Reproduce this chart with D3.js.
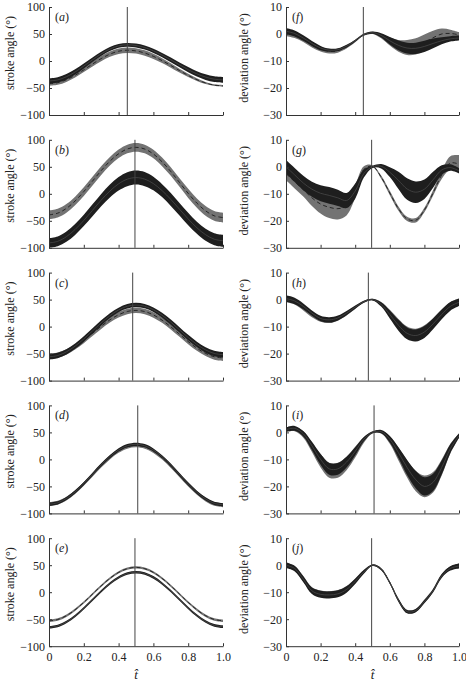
<!DOCTYPE html>
<html><head><meta charset="utf-8">
<script src="https://cdn.jsdelivr.net/npm/d3@7"></script>
<style>body{margin:0;background:#fff}svg{display:block}text{font-family:"Liberation Serif","Times New Roman",serif;fill:#222}</style>
</head><body><svg id="chart" width="466" height="682"></svg>
<script>
// normalised time (t-hat) sample points
const tHat = [0,0.05,0.1,0.15,0.2,0.25,0.3,0.35,0.4,0.45,0.5,0.55,0.6,0.65,0.7,0.75,0.8,0.85,0.9,0.95,1];

// ---- stroke angle (deg): mean and s.d. ----
const aGrayMean  = [-42,-40.1,-34.7,-26.5,-16.4,-5.6,4.5,12.7,18.1,20.0,18.7,14.8,8.6,0.7,-8.3,-17.7,-26.7,-34.6,-40.7,-44.7,-46.0];
const aGraySd    = [4,4,4,4,4.2,4.5,4.8,5,5,5,5,5,4.8,4.5,4,3.5,3,2.5,2,1.5,1.5];
const aBlackMean = [-37,-35.0,-29.2,-20.3,-9.3,2.3,13.3,22.2,28.0,30.0,28.7,24.9,18.8,11.0,2.1,-7.1,-16.0,-23.8,-29.8,-33.7,-35.0];
const aBlackSd   = [5,5,5,4.8,4.5,4.2,4,3.8,3.6,3.5,3.5,3.6,3.8,4,4.2,4.5,4.8,5,5.2,5.3,5.3];

const bGrayMean  = [-39,-35.9,-27.1,-13.3,4.1,23.5,42.9,60.3,74.1,83.0,86.0,82.9,73.7,59.2,41.2,21.0,0.9,-17.2,-31.6,-40.8,-44.0];
const bGraySd    = [8,8,8,8,8,8,8,8,8,8,8,8,8,8,8,8,8.5,8.5,9,9,9];
const bBlackMean = [-91,-88.0,-79.4,-66.1,-49.3,-30.5,-11.7,5.1,18.5,27.1,30.0,27.2,18.9,5.9,-10.4,-28.5,-46.6,-62.9,-75.8,-84.1,-87.0];
const bBlackSd   = [9,9,9.5,10,10.5,11,11.5,12,12.5,13,13,13,12.5,12,12,11.5,11.5,11,11,11,11];

const cGrayMean  = [-55,-52.9,-46.9,-37.5,-25.7,-12.5,0.7,12.5,21.9,28.0,30.0,27.9,21.6,11.9,-0.4,-14.0,-27.6,-39.9,-49.6,-55.8,-58.0];
const cGraySd    = [5,5,5,5,5,5,5,5,5,5,5,5,5,5,5,5,5,5,5,5.5,5.5];
const cBlackMean = [-56,-53.6,-46.8,-36.2,-22.9,-8.0,6.9,20.2,30.9,37.7,40.0,37.8,31.3,21.0,8.3,-6.0,-20.3,-33.0,-43.2,-49.7,-52.0];
const cBlackSd   = [5,5,5,5,5,5,4.8,4.5,4.2,4,4,4,4.2,4.5,4.8,5,5,5,5,5,5];

const dGrayMean  = [-83,-80.3,-72.6,-60.5,-45.4,-28.5,-11.6,3.5,15.6,23.4,26.0,23.3,15.5,3.1,-12.3,-29.5,-46.7,-62.1,-74.4,-82.3,-85.0];
const dGraySd    = [3.5,3.5,3.5,3.5,3.5,3.5,3.5,3.5,3.5,3.5,3.5,3.5,3.5,3.5,3.5,3.5,3.5,3.5,3.5,3.5,3.5];
const dBlackMean = [-83,-80.3,-72.4,-60.1,-44.7,-27.5,-10.3,5.1,17.5,25.3,28.0,25.3,17.4,4.9,-10.6,-28.0,-45.4,-60.9,-73.3,-81.3,-84.0];
const dBlackSd   = [3,3,3,3,3,3,3,3,3,3,3,3,3,3,3,3,3,3,3,3,3];

const eGrayMean  = [-53,-50.6,-43.5,-32.6,-18.8,-3.5,11.8,25.6,36.6,43.6,46.0,43.6,36.6,25.6,11.8,-3.5,-18.8,-32.6,-43.5,-50.6,-53.0];
const eGraySd    = [2.2,2.2,2.2,2.2,2.2,2.2,2.2,2.2,2.2,2.2,2.2,2.2,2.2,2.2,2.2,2.2,2.2,2.2,2.2,2.2,2.2];
const eBlackMean = [-65,-62.5,-55.3,-44.0,-29.8,-14.0,1.8,16.0,27.3,34.6,37.0,34.6,27.4,16.2,2.2,-13.5,-29.2,-43.2,-54.4,-61.5,-64.0];
const eBlackSd   = [2.4,2.4,2.4,2.4,2.4,2.4,2.4,2.4,2.4,2.4,2.4,2.4,2.4,2.4,2.4,2.4,2.4,2.4,2.4,2.4,2.4];

// ---- deviation angle (deg): mean and s.d. ----
const fGrayMean  = [0.3,-0.5,-2.0,-4.0,-5.6,-6.4,-6.2,-4.8,-2.6,-0.2,0.4,-0.8,-2.8,-4.4,-5.0,-4.6,-3.2,-1.4,0.0,0.2,-0.3];
const fGraySd    = [1,1,1,1,0.9,0.8,0.7,0.6,0.5,0.4,0.4,0.8,1.5,2.2,2.8,3,3,2.6,2,1.4,1];
const fBlackMean = [1.0,0.2,-1.5,-3.5,-5.2,-6.0,-5.8,-4.5,-2.5,-0.3,0.5,-0.5,-2.5,-4.2,-5.2,-5.3,-4.6,-3.5,-2.5,-1.8,-1.5];
const fBlackSd   = [1.2,1.1,1,0.9,0.8,0.6,0.5,0.5,0.4,0.3,0.4,0.8,1.4,1.8,2,2.1,2.1,1.8,1.3,1,0.9];

const gGrayMean  = [-2.5,-5.5,-8.5,-11.5,-13.8,-15,-15.5,-14.5,-9,-1,0.2,-3.8,-9.7,-15.5,-19.3,-19.8,-16,-9.7,-3,1.4,1];
const gGraySd    = [2.5,2.5,2.5,3,3.5,4,4,3.5,2.5,1.2,0.4,0.6,0.8,0.8,0.8,0.8,0.8,1,1.5,2.5,3.3];
const gBlackMean = [0,-3,-6,-8.3,-9.8,-10.6,-11.5,-12.5,-9,-2.5,0,0.2,-2,-5,-8.2,-9.4,-8.3,-4.8,-1.2,-0.3,-1.5];
const gBlackSd   = [2.5,2.6,2.7,2.8,3,3.1,3,2.8,2.8,1.5,0.4,0.8,1.8,3.2,4,4,3.6,3,1.8,1.2,1];

const hGrayMean  = [0,-0.8,-3,-5.5,-7.3,-7.8,-7,-5.2,-3,-0.8,0,-1.5,-4.8,-8.5,-11.5,-12.3,-11,-8.3,-5,-2.2,-0.8];
const hGraySd    = [1,1,1,1,0.9,0.9,0.8,0.7,0.5,0.4,0.3,0.6,1,1.3,1.5,1.5,1.5,1.4,1.3,1.2,1];
const hBlackMean = [0.4,-0.5,-2.5,-5,-7,-7.5,-6.8,-5,-2.8,-0.8,0,-1.8,-5.5,-9.5,-12.5,-13.3,-12,-9,-5.5,-2.5,-1];
const hBlackSd   = [1.2,1.2,1.1,1,1,1,0.9,0.8,0.6,0.4,0.3,0.8,1.5,2,2.2,2.2,2.2,2,1.8,1.6,1.4];

const iGrayMean  = [1,1.3,-0.8,-5.5,-10.5,-14,-14,-11.5,-7.3,-2.8,0,0.2,-2.8,-8,-13.5,-18,-20,-18.5,-13,-6,-1.2];
const iGraySd    = [0.8,0.9,1.2,1.8,2.5,2.8,2.8,2.5,2,1,0.4,0.6,1.4,2.4,3.2,3.8,4,3.8,3,1.8,0.8];
const iBlackMean = [1,1.5,-0.5,-5,-10,-13.5,-13.5,-11,-7,-2.5,0,0.3,-2.5,-7.5,-13,-17.5,-20,-18.5,-13,-6,-1.2];
const iBlackSd   = [0.8,0.9,1,1.5,2,2.2,2.2,2,1.5,0.8,0.3,0.6,1.2,2,2.8,3.2,3.4,3.2,2.6,1.6,0.8];

const jGrayMean  = [0.2,-1.3,-5,-9.3,-10.6,-10.8,-10.4,-8.8,-5.8,-2.3,0,-1.4,-6.4,-12.8,-17.1,-16.7,-13.3,-9.3,-3.9,-1.1,-0.2];
const jGraySd    = [0.9,0.9,1,1.1,1.2,1.2,1.2,1.1,0.9,0.6,0.3,0.4,0.5,0.6,0.6,0.6,0.6,0.6,0.6,0.7,0.8];
const jBlackMean = [0,-1.2,-5.2,-9.5,-10.8,-11,-10.6,-9,-6,-2.5,0,-1.5,-6.5,-13,-17.2,-16.8,-13.5,-9.5,-4,-1.2,-0.3];
const jBlackSd   = [1,1,1.1,1.2,1.3,1.3,1.3,1.2,1,0.7,0.3,0.4,0.5,0.6,0.6,0.6,0.6,0.6,0.7,0.8,0.9];

// stroke reversal time per panel (vertical line)
const reversalStroke    = [0.45, 0.494, 0.481, 0.51, 0.494];
const reversalDeviation = [0.447, 0.495, 0.476, 0.509, 0.495];

const strokeTicks = [-100,-50,0,50,100];
const deviationTicks = [-30,-20,-10,0,10];
const timeTicks = [0,0.2,0.4,0.6,0.8,1.0];
const strokeLetters = ['a','b','c','d','e'];
const deviationLetters = ['f','g','h','i','j'];

const strokeSets = [
  [aGrayMean,aGraySd,aBlackMean,aBlackSd],
  [bGrayMean,bGraySd,bBlackMean,bBlackSd],
  [cGrayMean,cGraySd,cBlackMean,cBlackSd],
  [dGrayMean,dGraySd,dBlackMean,dBlackSd],
  [eGrayMean,eGraySd,eBlackMean,eBlackSd]];
const deviationSets = [
  [fGrayMean,fGraySd,fBlackMean,fBlackSd],
  [gGrayMean,gGraySd,gBlackMean,gBlackSd],
  [hGrayMean,hGraySd,hBlackMean,hBlackSd],
  [iGrayMean,iGraySd,iBlackMean,iBlackSd],
  [jGrayMean,jGraySd,jBlackMean,jBlackSd]];

const panels = [];
for (let r = 0; r < 5; r++) {
  panels.push({col:0,row:r,letter:strokeLetters[r],set:strokeSets[r],rev:reversalStroke[r],dom:[-100,100],ticks:strokeTicks,title:'stroke angle (°)'});
  panels.push({col:1,row:r,letter:deviationLetters[r],set:deviationSets[r],rev:reversalDeviation[r],dom:[-30,10],ticks:deviationTicks,title:'deviation angle (°)'});
}

const svg = d3.select('#chart');
const colX = [[49,223],[286,459]];
const titleX = [14,248];
const PH = 108;

panels.forEach((p,idx) => {
  const top = 7 + p.row*132.8;
  const bot = top + PH;
  const [x0,x1] = colX[p.col];
  const x = d3.scaleLinear().domain([0,1]).range([x0,x1]);
  const y = d3.scaleLinear().domain(p.dom).range([bot,top]);
  const g = svg.append('g');
  const cid = 'clip'+idx;
  svg.append('clipPath').attr('id',cid).append('rect').attr('x',x0).attr('y',top).attr('width',x1-x0).attr('height',PH);
  const plot = g.append('g').attr('clip-path',`url(#${cid})`);
  const [gm,gs,bm,bs] = p.set;
  const curve = d3.curveCatmullRom.alpha(0.5);
  const band = (m,s) => d3.area().x((d,j)=>x(tHat[j])).y0((d,j)=>y(m[j]-s[j])).y1((d,j)=>y(m[j]+s[j])).curve(curve)(m);
  const line = m => d3.line().x((d,j)=>x(tHat[j])).y((d,j)=>y(m[j])).curve(curve)(m);
  plot.append('path').attr('d',band(gm,gs)).attr('fill','#737373');
  plot.append('path').attr('d',line(gm)).attr('fill','none').attr('stroke','#111').attr('stroke-width',0.8).attr('stroke-dasharray','4,3');
  plot.append('path').attr('d',band(bm,bs)).attr('fill','#1e1e1e');
  plot.append('path').attr('d',line(bm)).attr('fill','none').attr('stroke','#555').attr('stroke-width',0.6);

  // reversal line
  g.append('line').attr('x1',x(p.rev)).attr('x2',x(p.rev)).attr('y1',top).attr('y2',bot)
    .attr('stroke','#444').attr('stroke-width',1);

  // axes
  const ya = d3.axisLeft(y).tickValues(p.ticks).tickSizeInner(-3).tickSizeOuter(0).tickPadding(4);
  const yg = g.append('g').attr('transform',`translate(${x0},0)`).call(ya);
  const xa = d3.axisBottom(x).tickValues(timeTicks).tickSizeInner(-3).tickSizeOuter(0).tickPadding(6)
    .tickFormat(d => p.row===4 ? (d===0 ? '0' : d3.format('.1f')(d)) : '');
  const xg = g.append('g').attr('transform',`translate(0,${bot})`).call(xa);
  [yg,xg].forEach(a => {
    a.selectAll('path,line').attr('stroke','#333');
    a.selectAll('text').attr('font-size',12).attr('font-family','"Liberation Serif",serif').attr('fill','#222');
  });

  // panel letter
  const lt = g.append('text').attr('x',x0+6).attr('y',top+14).attr('font-size',12);
  lt.append('tspan').text('(');
  lt.append('tspan').attr('font-style','italic').text(p.letter);
  lt.append('tspan').text(')');

  // y title
  const cy = p.col===0 ? top+46 : top+51;
  g.append('text').attr('transform',`translate(${titleX[p.col]},${cy}) rotate(-90)`)
    .attr('text-anchor','middle').attr('font-size',12).text(p.title);

  if (p.row===4) {
    g.append('text').attr('x',(x0+x1)/2).attr('y',679).attr('text-anchor','middle')
      .attr('font-size',13).attr('font-style','italic').text('t\u0302');
  }
});
</script></body></html>
